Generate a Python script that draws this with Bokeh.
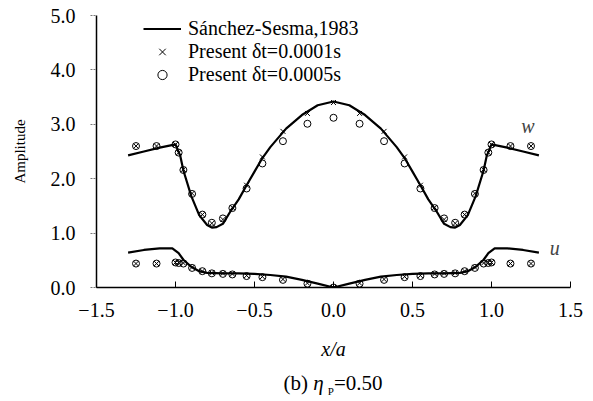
from bokeh.plotting import figure
from bokeh.models import Range1d, FixedTicker, Legend, LegendItem, Label, Div
from bokeh.layouts import column
from bokeh.embed import file_html
from bokeh.resources import INLINE

# Sanchez-Sesma (1983) reference curves
curve_x = [-1.3, -1.2, -1.1, -1.0, -0.97, -0.95, -0.9, -0.85, -0.8, -0.77, -0.74, -0.7,
           -0.65, -0.6, -0.55, -0.5, -0.45, -0.4, -0.3, -0.2, -0.1, 0.0,
           0.1, 0.2, 0.3, 0.4, 0.45, 0.5, 0.55, 0.6, 0.65, 0.7, 0.74, 0.77, 0.8,
           0.85, 0.9, 0.95, 0.97, 1.0, 1.1, 1.2, 1.3]
w_curve = [2.43, 2.50, 2.57, 2.63, 2.42, 2.15, 1.68, 1.33, 1.15, 1.10, 1.11, 1.17,
           1.41, 1.62, 1.88, 2.13, 2.38, 2.58, 2.92, 3.17, 3.35, 3.42,
           3.35, 3.17, 2.92, 2.58, 2.38, 2.13, 1.88, 1.62, 1.41, 1.17, 1.11, 1.10, 1.15,
           1.33, 1.68, 2.15, 2.42, 2.63, 2.57, 2.50, 2.43]
u_x = [-1.3, -1.2, -1.1, -1.02, -0.98, -0.95, -0.9, -0.85, -0.8, -0.7, -0.6, -0.5, -0.4,
       -0.3, -0.2, -0.1, 0.0, 0.1, 0.2, 0.3, 0.4, 0.5, 0.6, 0.7, 0.8, 0.85, 0.9, 0.95,
       0.98, 1.02, 1.1, 1.2, 1.3]
u_curve = [0.64, 0.69, 0.72, 0.72, 0.63, 0.51, 0.38, 0.30, 0.27, 0.26, 0.26, 0.25, 0.23,
           0.20, 0.14, 0.07, 0.0, 0.07, 0.14, 0.20, 0.23, 0.25, 0.26, 0.26, 0.27, 0.30,
           0.38, 0.51, 0.63, 0.72, 0.72, 0.69, 0.64]

# present results at the surface nodes
pts_x = [-1.25, -1.12, -1.0, -0.98, -0.95, -0.895, -0.83, -0.77, -0.70, -0.64, -0.55,
         -0.45, -0.32, -0.165, 0.0, 0.165, 0.32, 0.45, 0.55, 0.64, 0.70, 0.77, 0.83,
         0.895, 0.95, 0.98, 1.0, 1.12, 1.25]
w_dt1 = [2.60, 2.60, 2.63, 2.48, 2.17, 1.73, 1.34, 1.18, 1.25, 1.47, 1.88, 2.40, 2.87,
         3.20, 3.40, 3.20, 2.87, 2.40, 1.88, 1.47, 1.25, 1.18, 1.34, 1.73, 2.17, 2.48,
         2.63, 2.60, 2.60]
w_dt5 = [2.60, 2.60, 2.63, 2.48, 2.16, 1.72, 1.34, 1.19, 1.27, 1.46, 1.82, 2.28, 2.69,
         3.01, 3.12, 3.01, 2.69, 2.28, 1.82, 1.46, 1.27, 1.19, 1.34, 1.72, 2.16, 2.48,
         2.63, 2.60, 2.60]
u_dt1 = [0.44, 0.44, 0.46, 0.46, 0.45, 0.37, 0.30, 0.27, 0.26, 0.25, 0.22, 0.20, 0.15,
         0.08, 0.0, 0.08, 0.15, 0.20, 0.22, 0.25, 0.26, 0.27, 0.30, 0.37, 0.45, 0.46,
         0.46, 0.44, 0.44]
u_dt5 = [0.44, 0.44, 0.46, 0.45, 0.44, 0.36, 0.30, 0.26, 0.25, 0.24, 0.21, 0.19, 0.14,
         0.07, 0.0, 0.07, 0.14, 0.19, 0.21, 0.24, 0.25, 0.26, 0.30, 0.36, 0.44, 0.45,
         0.46, 0.44, 0.44]

x_ticks = [-1.5, -1.0, -0.5, 0.0, 0.5, 1.0, 1.5]
x_tick_labels = ["\u22121.5", "\u22121.0", "\u22120.5", "0.0", "0.5", "1.0", "1.5"]
y_ticks = [0, 1, 2, 3, 4, 5]
y_tick_labels = ["0.0", "1.0", "2.0", "3.0", "4.0", "5.0"]

legend_labels = ["S\u00e1nchez-Sesma,1983", "Present \u03b4t=0.0001s", "Present \u03b4t=0.0005s"]
curve_names = ["w", "u"]
curve_name_pos = [(1.23, 2.97), (1.40, 0.72)]
caption_html = "(b) <i>\u03b7</i>&thinsp;<sub style='font-size:11px'>P</sub>=0.50"

FONT = "Liberation Serif"

p = figure(width=593, height=372, x_range=Range1d(-1.5, 1.5), y_range=Range1d(0, 5),
           output_backend="svg", toolbar_location=None,
           min_border_left=96, min_border_right=23, min_border_top=15, min_border_bottom=85)
p.xgrid.visible = False
p.ygrid.visible = False
p.outline_line_color = None
p.background_fill_color = "white"
p.border_fill_color = "white"

r_line = p.line(curve_x, w_curve, line_color="black", line_width=2.2)
p.line(u_x, u_curve, line_color="black", line_width=2.2)
r_x = p.scatter(pts_x, w_dt1, marker="x", size=7, line_color="black", line_width=1)
p.scatter(pts_x, u_dt1, marker="x", size=7, line_color="black", line_width=1)
r_o = p.scatter(pts_x, w_dt5, marker="circle", size=7, line_color="black", line_width=1,
                fill_color=None)
p.scatter(pts_x, u_dt5, marker="circle", size=7, line_color="black", line_width=1,
          fill_color=None)

# axes
xa = p.xaxis[0]
xa.ticker = FixedTicker(ticks=x_ticks)
xa.major_label_overrides = {t: l for t, l in zip(x_ticks, x_tick_labels)}
xa.major_tick_in = 6
xa.major_tick_out = 0
xa.minor_tick_in = 0
xa.minor_tick_out = 0
xa.axis_line_width = 1.5
xa.major_label_standoff = 15
xa.major_label_text_font = FONT
xa.major_label_text_font_size = "20px"
xa.major_label_text_color = "black"
xa.axis_label = "x/a"
xa.axis_label_text_font = FONT
xa.axis_label_text_font_style = "italic"
xa.axis_label_text_font_size = "20px"
xa.axis_label_text_color = "black"
xa.axis_label_standoff = 18

ya = p.yaxis[0]
ya.ticker = FixedTicker(ticks=y_ticks)
ya.major_label_overrides = {t: l for t, l in zip(y_ticks, y_tick_labels)}
ya.major_tick_in = 0
ya.major_tick_out = 6
ya.major_tick_line_color = "#777777"
ya.major_tick_line_dash = "2 1"
ya.minor_tick_in = 0
ya.minor_tick_out = 0
ya.axis_line_width = 1.5
ya.major_label_standoff = 15
ya.major_label_text_font = FONT
ya.major_label_text_font_size = "20px"
ya.major_label_text_color = "black"
ya.axis_label = "Amplitude"
ya.axis_label_text_font = FONT
ya.axis_label_text_font_style = "normal"
ya.axis_label_text_font_size = "15px"
ya.axis_label_text_color = "black"
ya.axis_label_standoff = 20

# legend
legend = Legend(items=[LegendItem(label=legend_labels[0], renderers=[r_line]),
                       LegendItem(label=legend_labels[1], renderers=[r_x]),
                       LegendItem(label=legend_labels[2], renderers=[r_o])],
                location=(47, 201), orientation="vertical", padding=0, margin=0, spacing=0,
                glyph_width=38, glyph_height=23, label_height=23, label_standoff=7,
                background_fill_alpha=0, border_line_color=None,
                label_text_font=FONT, label_text_font_size="20px",
                label_text_color="black")
p.add_layout(legend, "center")

for name, (lx, ly) in zip(curve_names, curve_name_pos):
    p.add_layout(Label(x=lx, y=ly, text=name, text_font=FONT, text_font_style="italic",
                       text_font_size="20px", text_align="center", text_baseline="middle"))

caption = Div(text=caption_html, width=474, height=29, margin=(0, 0, 0, 96),
              styles={"font-family": FONT, "font-size": "21px", "text-align": "center",
                      "color": "black", "line-height": "23px"})

layout = column(p, caption, spacing=0)
open("out.html", "w").write(file_html(layout, INLINE))
